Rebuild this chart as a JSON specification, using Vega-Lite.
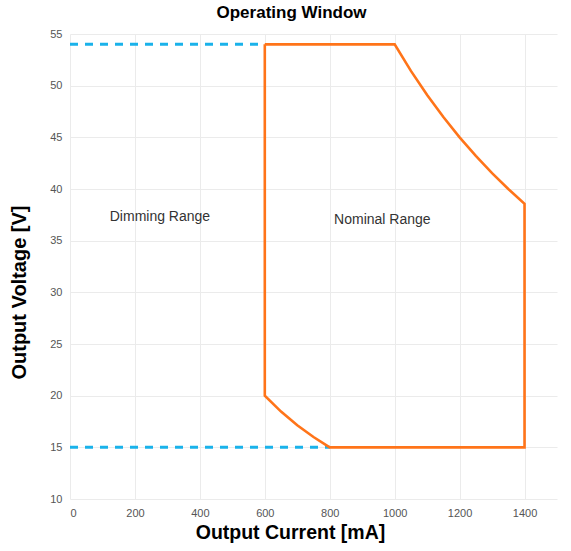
{
  "$schema": "https://vega.github.io/schema/vega-lite/v6.json",
  "width": 487,
  "height": 465,
  "autosize": "none",
  "padding": {"left": 70, "top": 34, "right": 14, "bottom": 52},
  "background": "white",
  "title": {"text": "Operating Window", "font": "Liberation Sans", "fontSize": 17, "fontWeight": "bold", "color": "#000000", "offset": 6, "dx": -22},
  "config": {
    "view": {"stroke": null},
    "axis": {"labelFont": "Liberation Sans", "titleFont": "Liberation Sans", "labelColor": "#555555", "labelFontSize": 11, "titleFontWeight": "bold", "titleColor": "#000000", "gridColor": "#ebebeb", "gridWidth": 1, "domain": false, "ticks": false}
  },
  "datasets": {
    "window": [
      {"series": "nominal", "ord": 1, "current": 600, "voltage": 54},
      {"series": "nominal", "ord": 2, "current": 1000, "voltage": 54},
      {"series": "nominal", "ord": 3, "current": 1050, "voltage": 51.43},
      {"series": "nominal", "ord": 4, "current": 1100, "voltage": 49.09},
      {"series": "nominal", "ord": 5, "current": 1150, "voltage": 46.96},
      {"series": "nominal", "ord": 6, "current": 1200, "voltage": 45},
      {"series": "nominal", "ord": 7, "current": 1250, "voltage": 43.2},
      {"series": "nominal", "ord": 8, "current": 1300, "voltage": 41.54},
      {"series": "nominal", "ord": 9, "current": 1350, "voltage": 40},
      {"series": "nominal", "ord": 10, "current": 1400, "voltage": 38.57},
      {"series": "nominal", "ord": 11, "current": 1400, "voltage": 15},
      {"series": "nominal", "ord": 12, "current": 800, "voltage": 15},
      {"series": "nominal", "ord": 13, "current": 750, "voltage": 16},
      {"series": "nominal", "ord": 14, "current": 700, "voltage": 17.14},
      {"series": "nominal", "ord": 15, "current": 650, "voltage": 18.46},
      {"series": "nominal", "ord": 16, "current": 600, "voltage": 20},
      {"series": "nominal", "ord": 17, "current": 600, "voltage": 54}
    ],
    "dim": [
      {"series": "top", "ord": 1, "current": 0, "voltage": 54},
      {"series": "top", "ord": 2, "current": 600, "voltage": 54},
      {"series": "bottom", "ord": 1, "current": 0, "voltage": 15},
      {"series": "bottom", "ord": 2, "current": 800, "voltage": 15}
    ],
    "labels": [
      {"label": "Dimming Range", "current": 277, "voltage": 37.3},
      {"label": "Nominal Range", "current": 962, "voltage": 37.0}
    ]
  },
  "layer": [
    {
      "data": {"name": "dim"},
      "mark": {"type": "line", "color": "#1ab2ea", "strokeWidth": 3, "strokeDash": [8, 7]},
      "encoding": {
        "x": {"field": "current", "type": "quantitative", "scale": {"domain": [0, 1500], "nice": false}, "title": "Output Current [mA]",
          "axis": {"values": [0,100,200,300,400,500,600,700,800,900,1000,1100,1200,1300,1400,1500], "labelExpr": "datum.value % 200 === 0 ? datum.label : ''", "labelPadding": 8, "titlePadding": 5, "titleFontSize": 19.5, "titleX": 220, "format": "d"}},
        "y": {"field": "voltage", "type": "quantitative", "scale": {"domain": [10, 55], "nice": false, "zero": false}, "title": "Output Voltage [V]",
          "axis": {"values": [10,15,20,25,30,35,40,45,50,55], "labelPadding": 8, "titlePadding": 20, "titleFontSize": 20, "titleY": 258}},
        "detail": {"field": "series"},
        "order": {"field": "ord"}
      }
    },
    {
      "data": {"name": "window"},
      "mark": {"type": "line", "color": "#ff7419", "strokeWidth": 2.6, "strokeJoin": "miter"},
      "encoding": {
        "x": {"field": "current", "type": "quantitative"},
        "y": {"field": "voltage", "type": "quantitative"},
        "order": {"field": "ord"}
      }
    },
    {
      "data": {"name": "labels"},
      "mark": {"type": "text", "font": "Liberation Sans", "fontSize": 14, "color": "#333333"},
      "encoding": {
        "x": {"field": "current", "type": "quantitative"},
        "y": {"field": "voltage", "type": "quantitative"},
        "text": {"field": "label"}
      }
    }
  ]
}
